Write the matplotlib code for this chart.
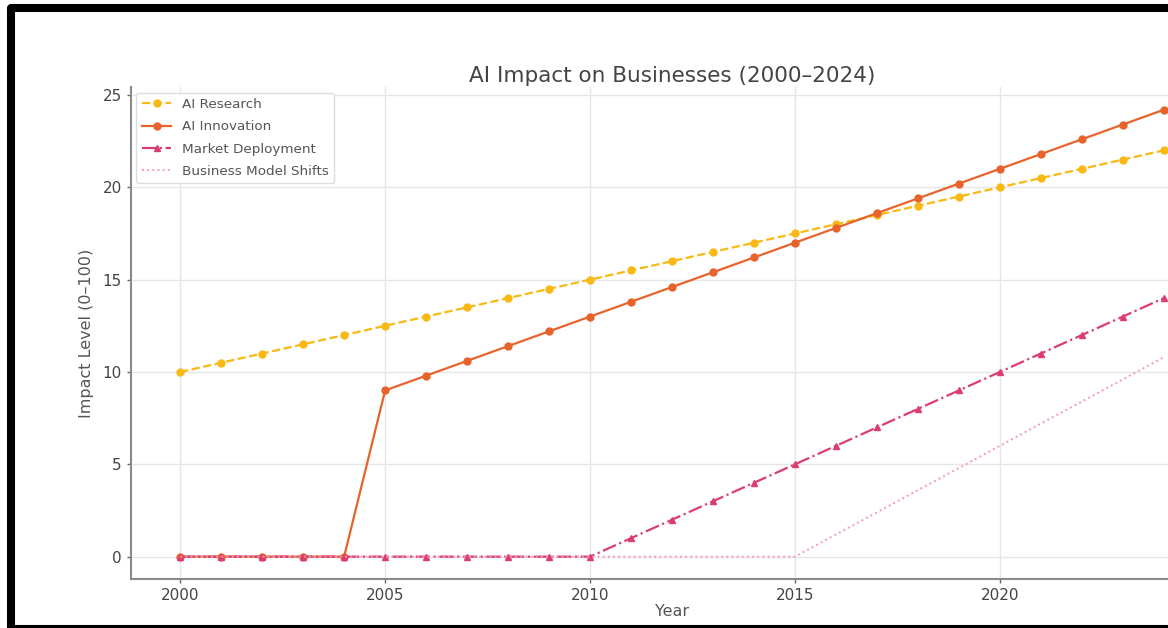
import matplotlib
matplotlib.use("Agg")
import matplotlib.pyplot as plt
from matplotlib.patches import Rectangle

years = list(range(2000, 2025))
ai_research = [10.0, 10.5, 11.0, 11.5, 12.0, 12.5, 13.0, 13.5, 14.0, 14.5, 15.0, 15.5, 16.0,
               16.5, 17.0, 17.5, 18.0, 18.5, 19.0, 19.5, 20.0, 20.5, 21.0, 21.5, 22.0]
ai_innovation = [0, 0, 0, 0, 0, 9.0, 9.8, 10.6, 11.4, 12.2, 13.0, 13.8, 14.6,
                 15.4, 16.2, 17.0, 17.8, 18.6, 19.4, 20.2, 21.0, 21.8, 22.6, 23.4, 24.2]
market_deployment = [0, 0, 0, 0, 0, 0, 0, 0, 0, 0, 0, 1, 2,
                     3, 4, 5, 6, 7, 8, 9, 10, 11, 12, 13, 14]
business_shifts = [0, 0, 0, 0, 0, 0, 0, 0, 0, 0, 0, 0, 0,
                   0, 0, 0, 1.2, 2.4, 3.6, 4.8, 6.0, 7.2, 8.4, 9.6, 10.8]
xticks = [2000, 2005, 2010, 2015, 2020]
yticks = [0, 5, 10, 15, 20, 25]

W, H = 1168, 628
fig = plt.figure(figsize=(W / 100, H / 100), dpi=100)
fig.patch.set_facecolor("white")

ax = fig.add_axes([131 / W, 1 - 579 / H, (1213 - 131) / W, (579 - 87.4) / H])

ax.plot(years, ai_research, linestyle="--", marker="o", color="#F9B914", lw=1.6, ms=5,
        label="AI Research")
ax.plot(years, ai_innovation, linestyle="-", marker="o", color="#E8632B", lw=1.6, ms=5,
        label="AI Innovation")
ax.plot(years, market_deployment, linestyle="-.", marker="^", color="#DB3E6E", lw=1.6, ms=5,
        label="Market Deployment")
ax.plot(years, business_shifts, linestyle=":", color="#F59AB5", lw=1.4,
        label="Business Model Shifts")

ax.set_xticks(xticks)
ax.set_yticks(yticks)
ax.grid(True, color="#E6E6E6", lw=1.0)
ax.set_axisbelow(True)
for s in ["top", "right"]:
    ax.spines[s].set_visible(False)
for s in ["left", "bottom"]:
    ax.spines[s].set_color("#8A8A8A")
    ax.spines[s].set_linewidth(1.5)
ax.tick_params(colors="#666666", labelsize=11, length=3, width=1, labelcolor="#444444")

ax.set_title("AI Impact on Businesses (2000–2024)", fontsize=15.5, color="#444444", pad=4)
ax.set_xlabel("Year", fontsize=11.5, color="#555555", labelpad=1)
ax.set_ylabel("Impact Level (0–100)", fontsize=11.5, color="#555555", labelpad=6)

leg = ax.legend(loc="upper left", fontsize=9.7, frameon=True, framealpha=1,
                edgecolor="#DDDDDD", borderaxespad=0.4, labelspacing=0.68,
                handlelength=2.2)
for t in leg.get_texts():
    t.set_color("#555555")

fig.patches.append(Rectangle((11 / W, 1 - 629 / H), 2.0, (629 - 8) / H,
                             transform=fig.transFigure, fill=False, edgecolor="black",
                             linewidth=5.8, joinstyle="round"))

fig.savefig("out.png", dpi=100)
